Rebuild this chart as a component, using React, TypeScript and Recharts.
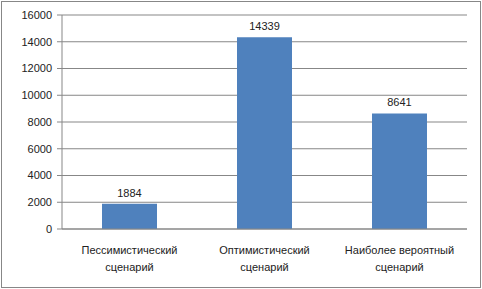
import { BarChart, Bar, XAxis, YAxis, CartesianGrid, LabelList } from "recharts";

const scenarios = ["Пессимистический сценарий", "Оптимистический сценарий", "Наиболее вероятный сценарий"];
const labelLines = [
  ["Пессимистический", "сценарий"],
  ["Оптимистический", "сценарий"],
  ["Наиболее вероятный", "сценарий"],
];
const values = [1884, 14339, 8641];
const yTicks = [0, 2000, 4000, 6000, 8000, 10000, 12000, 14000, 16000];

const data = scenarios.map((name, i) => ({ name, value: values[i] }));

const font = "'Liberation Sans', 'DejaVu Sans', sans-serif";
const gray = "#878787";

function CategoryTick(props: any) {
  const { x, y, index } = props;
  const lines = labelLines[index] || [];
  return (
    <g>
      {lines.map((t, i) => (
        <text
          key={i}
          x={x}
          y={y + 14 + i * 17}
          textAnchor="middle"
          dominantBaseline="middle"
          fontSize={11}
          fontFamily={font}
          fill="#222"
        >
          {t}
        </text>
      ))}
    </g>
  );
}

export default function App() {
  return (
    <div style={{ position: "absolute", left: 0, top: 0, width: 482, height: 289, background: "#fff" }}>
      <div
        style={{
          position: "absolute",
          left: 1,
          top: 1,
          width: 480,
          height: 287,
          border: `1px solid ${gray}`,
          boxSizing: "border-box",
        }}
      />
      <div style={{ position: "absolute", left: 0, top: 0 }}>
        <BarChart width={482} height={289} data={data} margin={{ top: 15, right: 15, bottom: 0, left: 0 }}>
          <CartesianGrid vertical={false} stroke={gray} strokeWidth={1} />
          <XAxis
            dataKey="name"
            height={60}
            axisLine={{ stroke: gray }}
            tickLine={false}
            tick={<CategoryTick />}
            interval={0}
          />
          <YAxis
            width={62}
            domain={[0, 16000]}
            ticks={yTicks}
            interval={0}
            axisLine={{ stroke: gray }}
            tickLine={{ stroke: gray }}
            tickSize={5}
            tickMargin={5}
            tick={{ fontSize: 11, fontFamily: font, fill: "#222" }}
          />
          <Bar dataKey="value" fill="#4F81BD" barSize={55} isAnimationActive={false}>
            <LabelList dataKey="value" position="top" offset={7} fontSize={11} fontFamily={font} fill="#222" />
          </Bar>
        </BarChart>
      </div>
    </div>
  );
}
